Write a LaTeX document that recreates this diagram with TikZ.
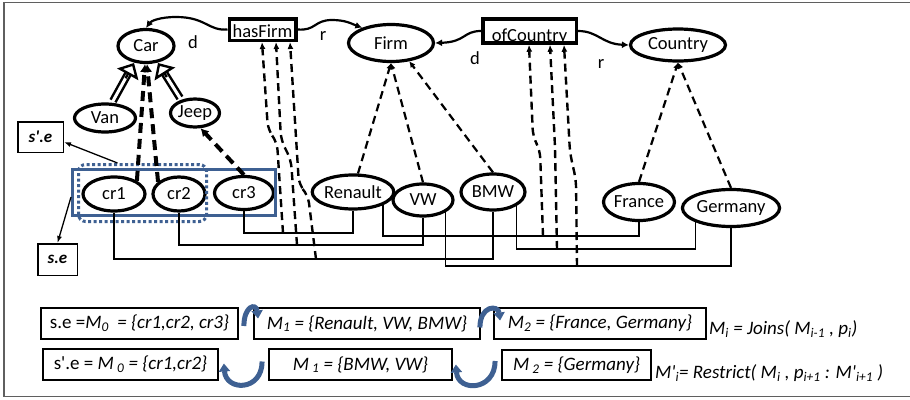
\documentclass[tikz,border=0pt]{standalone}
\usepackage{fontspec}
\setmainfont{Carlito}
\usetikzlibrary{arrows.meta,shapes.geometric,calc}
\definecolor{setblue}{RGB}{62,96,146}
\definecolor{edgegray}{RGB}{95,95,95}
\newcommand{\sbs}[1]{\textsubscript{#1}}
\newcommand{\apo}{\textquotesingle}

\begin{document}
\begin{tikzpicture}[x=1pt,y=-1pt,
  every node/.style={inner sep=0pt, font=\fontsize{18.5}{21}\selectfont},
  cls/.style={ellipse, draw, line width=3.2pt},
  prop/.style={rectangle, draw, line width=3.5pt},
  setbox/.style={rectangle, draw, line width=1.8pt, minimum height=31pt, font=\fontsize{19}{22}\selectfont},
  formula/.style={font=\fontsize{19}{22}\selectfont},
  tagbox/.style={rectangle, draw, line width=1.5pt, font=\fontsize{17}{20}\selectfont\bfseries\itshape},
  link/.style={line width=1.4pt},
  memb/.style={line width=2.4pt, dash pattern=on 8pt off 5pt, -{Latex[length=7pt,width=6pt]}},
  thickmemb/.style={line width=4pt, dash pattern=on 10pt off 6pt, -{Latex[length=8pt,width=9pt]}},
  inst/.style={line width=2.2pt, dash pattern=on 8pt off 5pt, -{Latex[length=6pt,width=6pt]}},
  isashaft/.style={line width=8pt, shorten >=12pt, postaction={draw=white, line width=3pt, shorten >=11pt, shorten <=-1pt}},
  isahead/.style={line width=2.4pt, -{Triangle[open,length=13pt,width=24pt]}},
  domrange/.style={line width=2.2pt, -{Latex[length=7pt,width=7pt]}},
  flow/.style={setblue, line width=5pt, -{Triangle[length=8pt,width=11pt]}},
  pointer/.style={line width=1.3pt, -{Latex[length=7pt,width=5pt]}},
]
\useasboundingbox (0,0) rectangle (910,399);
% outer frame
\draw[edgegray, line width=1.2pt] (910,2.5) -- (4,2.5) -- (4,396.5) -- (910,396.5);

% subclass arrows: hollow shafts first, so the ellipse borders stay on top
\coordinate (vanFoot) at (113,101);
\coordinate (vanTip) at (134,63);
\coordinate (jeepFoot) at (180,98);
\coordinate (jeepTip) at (158,63);
\draw[isashaft] (vanFoot) -- (vanTip);
\draw[isashaft] (jeepFoot) -- (jeepTip);

% classes and properties
\node[cls, minimum width=56pt, minimum height=33pt] (Car) at (146,46) {Car};
\node[cls, minimum width=85pt, minimum height=37pt] (Firm) at (391,43) {Firm};
\node[cls, minimum width=95pt, minimum height=32pt] (Country) at (678,45) {Country};
\node[prop, minimum width=66.5pt, text height=18.25pt, text depth=3.25pt] (hasFirm) at (262.5,29.5) {hasFirm};
\node[prop, minimum width=93.5pt, text height=22pt, text depth=2pt] (ofCountry) at (529.5,31) {ofCountry};
\node[cls, minimum width=61pt, minimum height=28pt] (Van) at (105,118) {Van};
\node[cls, minimum width=49pt, minimum height=28pt] (Jeep) at (195,113) {Jeep};

% open heads of the subclass arrows
\draw[isahead] ($(vanFoot)!0.6!(vanTip)$) -- (vanTip);
\draw[isahead] ($(jeepFoot)!0.6!(jeepTip)$) -- (jeepTip);

% instances
\node[cls, minimum width=62pt, minimum height=34pt] (cr1) at (114,194) {cr1};
\node[cls, minimum width=52pt, minimum height=34pt] (cr2) at (179,194) {cr2};
\node[cls, minimum width=59pt, minimum height=33pt] (cr3) at (244,193) {cr3};
\node[cls, minimum width=70pt, minimum height=34pt] (Renault) at (353,192) {Renault};
\node[cls, minimum width=60pt, minimum height=32pt] (VW) at (423,200) {VW};
\node[cls, minimum width=64pt, minimum height=36pt] (BMW) at (493,192) {BMW};
\node[cls, minimum width=69pt, minimum height=37pt] (France) at (639,202) {France};
\node[cls, minimum width=75pt, minimum height=37pt] (Germany) at (731,208) {Germany};

% selections
\node[draw=setblue, line width=3pt, minimum width=203pt, minimum height=46pt] (sall) at (174,192.5) {};
\node[draw=setblue, line width=3pt, dash pattern=on 3pt off 2.5pt, rounded corners=7pt,
      minimum width=128pt, minimum height=57pt] (ssub) at (142.5,193) {};
\node[tagbox, minimum width=45.5pt, minimum height=30.5pt] (sp) at (40.5,137) {s\apo.e};
\node[tagbox, minimum width=39.5pt, minimum height=31.5pt] (se) at (57.5,259.5) {s.e};
\draw[pointer] ([xshift=-25pt]ssub.north) -- ([yshift=-5pt]sp.east);
\draw[pointer] ([yshift=-4.5pt]sall.west) -- (se.north);

% domain / range labels
\node (d1) at (193,42) {d};
\node (r1) at (323,36) {r};
\node (d2) at (475,58) {d};
\node (r2) at (601,64) {r};

% domain and range arcs
\draw[domrange] (hasFirm.west) .. controls (208,31) and (206,17) .. (176,17)
  .. controls (160,17) and (151,21) .. (Car.north);
\draw[domrange] (hasFirm.east) .. controls (316,31) and (314,20) .. (332,20)
  .. controls (346,20) and (352,24) .. (Firm.152);
\draw[domrange] (ofCountry.west) .. controls (463,31) and (466,42) .. (Firm.east);
\draw[domrange] (ofCountry.east) .. controls (598,31) and (602,44) .. (Country.west);

% instance-of arrows
\draw[thickmemb] (cr1.30) -- ([xshift=-1pt]Car.south);
\draw[thickmemb] (cr2.150) -- ([xshift=1pt]Car.south);
\draw[thickmemb] (cr3.north) -- (Jeep.-70);
\draw[inst] (Renault.75) -- (Firm.south);
\draw[inst] (VW.north) -- (Firm.south);
\draw[inst] (BMW.north) -- (Firm.-45);
\draw[inst] (France.north) -- (Country.south);
\draw[inst] (Germany.north) -- (Country.south);

% property assertions (pairs)
\coordinate (yA) at (0,233);
\coordinate (yB) at (0,245);
\coordinate (yC) at (0,259);
\coordinate (yD) at (0,236);
\coordinate (yE) at (0,249);
\coordinate (yF) at (0,266);
\draw[link] (cr3.south) -- (cr3.south |- yA) -| (Renault.south);
\draw[link] (cr2.south) -- (cr2.south |- yB) -| (VW.south);
\draw[link] (cr1.south) -- (cr1.south |- yC) -| (BMW.south);
\draw[link] (Renault.south east) -- (Renault.south east |- yD) -| (France.south);
\draw[link] (BMW.south east) -- (BMW.south east |- yE) -| (Germany.south west);
\draw[link] (VW.south east) -- (VW.south east |- yF) -| (Germany.south);

% pair-to-property arrows
\coordinate (h1) at (283,233);
\coordinate (h2) at (297,245);
\coordinate (h3) at (316,259);
\draw[memb, rounded corners=8pt] (h1) -- (277,142) -- (268,130) -- ([xshift=-0.5pt]hasFirm.south);
\draw[memb, rounded corners=8pt] (h2) -- (291,160) -- (281,140) -- ([xshift=13.5pt]hasFirm.south);
\draw[memb, rounded corners=8pt] (h3) -- (308,195) -- (299,185) -- ([xshift=27.5pt]hasFirm.south);
\coordinate (o1) at (543,236);
\coordinate (o2) at (557,249);
\coordinate (o3) at (577,266);
\draw[memb, rounded corners=8pt] (o1) -- (540,150) -- (533,137) -- ([xshift=-0.5pt]ofCountry.south);
\draw[memb, rounded corners=8pt] (o2) -- (555,147) -- ([xshift=20.5pt]ofCountry.south);
\draw[memb, rounded corners=8pt] (o3) -- (576,180) -- (570,153) -- ([xshift=34.5pt]ofCountry.south);

% join / restrict sequences
\node[setbox, minimum width=197pt] (A) at (139.5,323.5) {s.e =\textit{M\sbs{0}\ \ = \{cr1,cr2, cr3\}}};
\node[setbox, minimum width=226pt] (B) at (367,323.5) {\textit{M\sbs{1} = \{Renault, VW, BMW\}}};
\node[setbox, minimum width=212pt] (C) at (600,323.5) {\textit{M\sbs{2} = \{France, Germany\}}};
\node[formula, anchor=west] (joins) at (709,329) {\textit{M\sbs{i} = Joins( M\sbs{i-1} , p\sbs{i})}};
\node[setbox, minimum width=175pt] (D) at (130.5,364.5) {s\apo.e = \textit{M\,\sbs{0} = \{cr1,cr2\}}};
\node[setbox, minimum width=183pt] (E) at (360.5,364.5) {\textit{M\,\sbs{1} = \{BMW, VW\}}};
\node[setbox, minimum width=149pt, minimum height=30pt] (F) at (576.5,365) {\textit{M\,\sbs{2} = \{Germany\}}};
\node[formula, anchor=west] (restrict) at (655,373) {\textit{M\apo\sbs{i}= Restrict( M\sbs{i} , p\sbs{i+1} : M\apo\sbs{i+1} )}};

\draw[flow] ([xshift=5pt,yshift=-2.5pt]A.east) .. controls +(0,-20) and +(-2,-16) .. ([xshift=5pt,yshift=5pt]B.west);
\draw[flow] ([xshift=-1pt,yshift=-4pt]B.east) .. controls +(0,-22) and +(-2,-16) .. ([xshift=7pt,yshift=3pt]C.west);
\draw[flow] ([xshift=-6pt,yshift=3pt]E.west) .. controls +(0,30) and +(2,28) .. ([xshift=5pt,yshift=1pt]D.east);
\draw[flow] ([xshift=-6pt,yshift=4pt]F.west) .. controls +(0,30) and +(2,28) .. ([xshift=3pt]E.east);
\end{tikzpicture}
\end{document}
